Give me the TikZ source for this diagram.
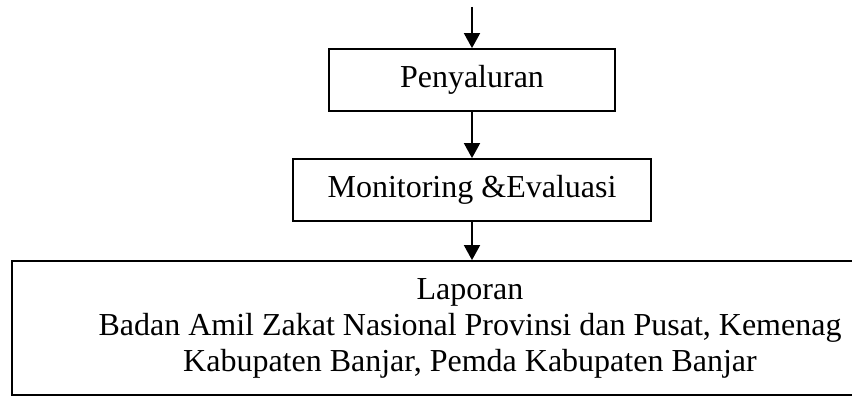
\documentclass[tikz,border=0pt]{standalone}
\usepackage{fontspec}
\setmainfont{Liberation Serif}
\usepackage{tikz}
\usetikzlibrary{arrows.meta}
\usetikzlibrary{positioning}

\begin{document}
\begin{tikzpicture}[x=1pt, y=-1pt,
    kotak/.style={draw, line width=1.8pt, rectangle, inner sep=0pt,
        font=\fontsize{32}{36}\selectfont},
    panah/.style={line width=1.8pt, -{Triangle[length=15pt, width=16pt]}}]
            \useasboundingbox (0,0) rectangle (852,396);

            \coordinate (mulai) at (472,7);
            \draw (472,80) node[kotak, minimum width=286pt, minimum height=62pt]    (salur) {Penyaluran};
            \draw (472,190) node[kotak, minimum width=358pt, minimum height=62pt] (monev) {Monitoring \&Evaluasi};
            \draw (470,328) node[kotak, minimum width=916pt, minimum height=134pt, align=center] (lapor)
                {Laporan\\Badan Amil Zakat Nasional Provinsi dan Pusat, Kemenag\\Kabupaten Banjar, Pemda Kabupaten Banjar};

            \draw[panah] (mulai) -- (salur.north);
            \draw[panah] (salur.south) -- (monev.north);
            \draw[panah] (monev.south) -- (monev.south |- lapor.north);

            \end{tikzpicture}
\end{document}
